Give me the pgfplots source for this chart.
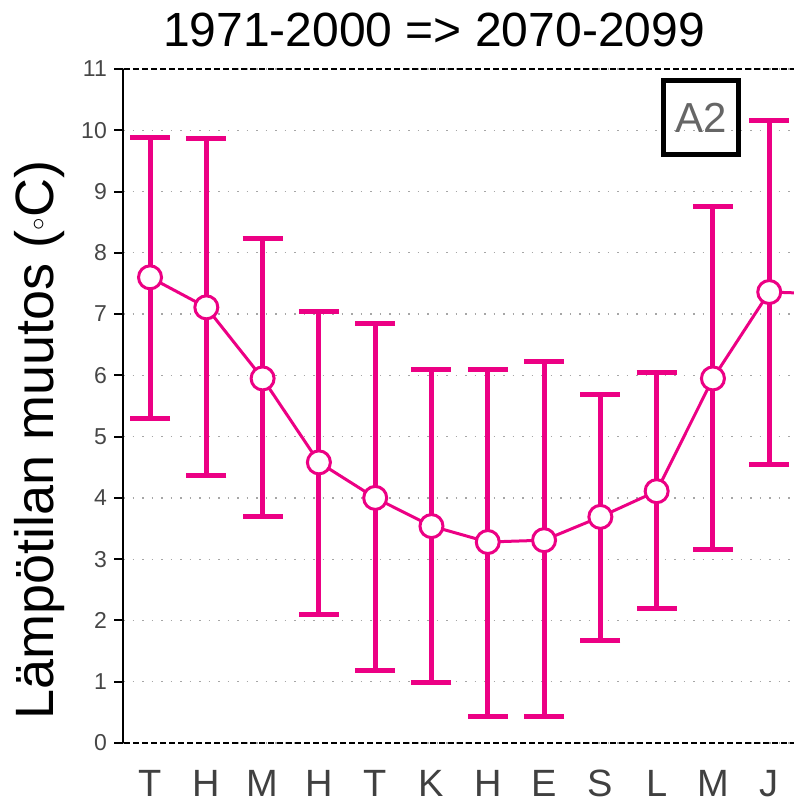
\documentclass[border=0pt]{standalone}
\usepackage{fontspec}
\setmainfont{Liberation Sans}
\usepackage{pgfplots}
\usepackage{pgfplotstable}
\pgfplotsset{compat=1.18}
\definecolor{mag}{RGB}{236,0,132}
\definecolor{tickgray}{RGB}{70,70,70}
\pgfplotstableread{
x y ep em
0 7.60 2.28 2.30
1 7.11 2.76 2.74
2 5.95 2.29 2.26
3 4.58 2.47 2.48
4 4.00 2.85 2.81
5 3.54 2.56 2.56
6 3.28 2.82 2.84
7 3.31 2.91 2.87
8 3.69 2.00 2.01
9 4.11 1.94 1.91
10 5.95 2.81 2.79
11 7.36 2.80 2.81
}\errdata
\pgfplotstableread{
x y
0 7.60
1 7.11
2 5.95
3 4.58
4 4.00
5 3.54
6 3.28
7 3.31
8 3.69
9 4.11
10 5.95
11 7.36
12 7.33
}\linedata
\begin{document}
\begin{tikzpicture}[x=1pt,y=1pt]
\useasboundingbox (0,0) rectangle (794,806);
\begin{axis}[
  name=ax,
  at={(123pt,63pt)}, anchor=south west,
  scale only axis, width=671pt, height=674pt,
  xmin=-0.48, xmax=11.44, ymin=0, ymax=11,
  axis line style={draw=none},
  xtick={0,...,11}, xticklabels={T,H,M,H,T,K,H,E,S,L,M,J},
  ytick={0,...,11},
  xtick style={draw=none},
  ytick style={black, line width=2pt},
  ytick pos=left, tick align=outside, major tick length=9pt,
  ymajorgrids,
  grid style={gray!70, line width=1.3pt, dash pattern=on 1.5pt off 8pt},
  /pgf/number format/assume math mode=true,
  yticklabel style={font=\fontsize{23}{23}\selectfont, text=tickgray, inner sep=0pt, xshift=-7pt},
  xticklabel style={font=\fontsize{38}{38}\selectfont, text=black!75, inner sep=0pt, anchor=north, yshift=-18pt},
]
\addplot[only marks, mark=none, error bars/.cd, y dir=both, y explicit,
  error bar style={draw=mag, line width=5pt},
  error mark options={draw=mag, line width=5pt, rotate=90, mark size=20pt}]
  table[x=x, y=y, y error plus=ep, y error minus=em] {\errdata};
\addplot[mag, line width=3pt, mark=*, mark size=11.5pt,
  mark options={fill=white, draw=mag, line width=3pt}]
  table[x=x, y=y] {\linedata};
\end{axis}
\draw[black, line width=1.6pt, dash pattern=on 6pt off 3pt] ([xshift=-8pt]ax.north west) -- (ax.north east);
\draw[black, line width=1.6pt, dash pattern=on 6pt off 3pt] ([xshift=-8pt]ax.south west) -- (ax.south east);
\draw[black, line width=2pt] (ax.south west) -- (ax.north west);
\node[draw=black, line width=5pt, minimum width=75pt, minimum height=74pt, inner sep=0pt,
  text=black!60, font=\fontsize{42}{42}\selectfont] at (701,688.5) {A2};
\node[font=\fontsize{48}{48}\selectfont] at (434,776) {1971-2000 => 2070-2099};
\node[rotate=90, font=\fontsize{54}{54}\selectfont] at (40,366) {Lämpötilan muutos ($^\circ$C)};
\end{tikzpicture}
\end{document}
